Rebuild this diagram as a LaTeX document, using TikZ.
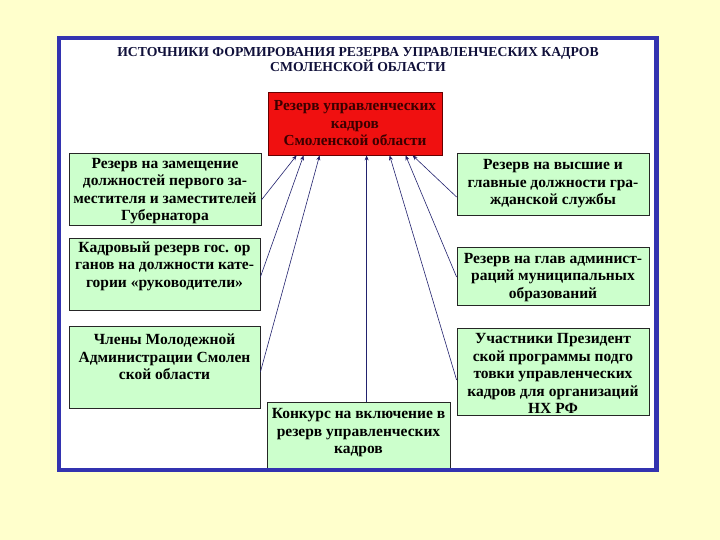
\documentclass[tikz,border=0pt]{standalone}
\usepackage{fontspec}
\setmainfont{Liberation Serif}
\usetikzlibrary{calc,arrows.meta}
\definecolor{bgyellow}{HTML}{FFFFCC}
\definecolor{framebl}{HTML}{3333B0}
\definecolor{boxgreen}{HTML}{CCFFCC}
\definecolor{arrowbl}{HTML}{22226E}
\definecolor{titlecol}{HTML}{10103A}
\definecolor{redfill}{HTML}{F01010}
\definecolor{redtext}{HTML}{3A0000}
\begin{document}
\begin{tikzpicture}[x=1pt,y=-1pt,
  boxtext/.style={font=\fontsize{15.5}{17.5}\selectfont\bfseries, align=center, text=black, inner sep=0pt},
  srcbox/.style={boxtext, draw=black!85, fill=boxgreen, line width=0.8pt},
  redbox/.style={draw=black!60!red, fill=redfill, line width=0.8pt, align=center,
    font=\fontsize{15.3}{17.5}\selectfont\bfseries, inner sep=0pt, text=redtext,
    minimum width=174pt, minimum height=63pt},
  feed/.style={draw=arrowbl, line width=0.6pt, -{Stealth[length=5pt,width=4pt]}}]
\useasboundingbox (0,0) rectangle (720,540);
\fill[bgyellow] (0,0) rectangle (720,540);
\fill[white] (59,38) rectangle (656.5,470);
% title
\node[font=\fontsize{13.7}{15}\selectfont\bfseries, text=titlecol, align=center] (title) at (358,60)
  {ИСТОЧНИКИ ФОРМИРОВАНИЯ РЕЗЕРВА УПРАВЛЕНЧЕСКИХ КАДРОВ\\СМОЛЕНСКОЙ ОБЛАСТИ};
% red target
\node[redbox] (r) at (355,123.5) {Резерв управленческих\\кадров\\Смоленской области};
% left sources
\node[srcbox, minimum width=192pt, minimum height=72pt] (b1) at (165,189) {};
\node[boxtext] (b1t) at (165,191)
  {Резерв на замещение\\должностей первого за-\\местителя и заместителей\\Губернатора};
\node[srcbox, minimum width=191pt, minimum height=72pt] (b2) at (164.5,274) {};
\node[boxtext] (b2t) at (164.5,266)
  {Кадровый резерв гос. ор\\ганов на должности кате-\\гории «руководители»};
\node[srcbox, minimum width=191pt, minimum height=82pt] (b3) at (164.5,367) {};
\node[boxtext] (b3t) at (164.5,357)
  {Члены Молодежной\\Администрации Смолен\\ской области};
% right sources
\node[srcbox, minimum width=192pt, minimum height=62pt] (b4) at (553,184)
  {Резерв на высшие и\\главные должности гра-\\жданской службы};
\node[srcbox, minimum width=192pt, minimum height=58pt] (b5) at (553,276) {};
\node[boxtext] (b5t) at (553,277.5)
  {Резерв на глав админист-\\раций муниципальных\\образований};
\node[srcbox, minimum width=192pt, minimum height=87pt] (b6) at (553,371.5) {};
\node[boxtext] (b6t) at (553,373.5)
  {Участники Президент\\ской программы подго\\товки управленческих\\кадров для организаций\\НХ РФ};
% bottom source
\node[srcbox, minimum width=183pt, minimum height=66pt] (b7) at (358.5,435) {};
\node[boxtext] (b7t) at (358.5,433)
  {Конкурс на включение в\\резерв управленческих\\кадров};
% connectors
\coordinate (t1) at ($(r.south west)+(29,0)$);
\coordinate (t2) at ($(r.south west)+(36,0)$);
\coordinate (t3) at ($(r.south west)+(52,0)$);
\coordinate (t4) at ($(r.south west)+(99,0)$);
\coordinate (t5) at ($(r.south west)+(122,0)$);
\coordinate (t6) at ($(r.south west)+(138,0)$);
\coordinate (t7) at ($(r.south west)+(145,0)$);
\draw[feed] ($(b1.east)+(0,11)$) -- (t1);
\draw[feed] ($(b2.east)+(0,3)$) -- (t2);
\draw[feed] ($(b3.east)+(0,5)$) -- (t3);
\draw[feed] (b7.north -| t4) -- (t4);
\draw[feed] ($(b6.west)+(0,8.5)$) -- (t5);
\draw[feed] ($(b5.west)+(0,1)$) -- (t6);
\draw[feed] ($(b4.west)+(0,13)$) -- (t7);
% frame
\draw[framebl, line width=4.5pt] (59,38) rectangle (656.5,470);
\end{tikzpicture}
\end{document}
